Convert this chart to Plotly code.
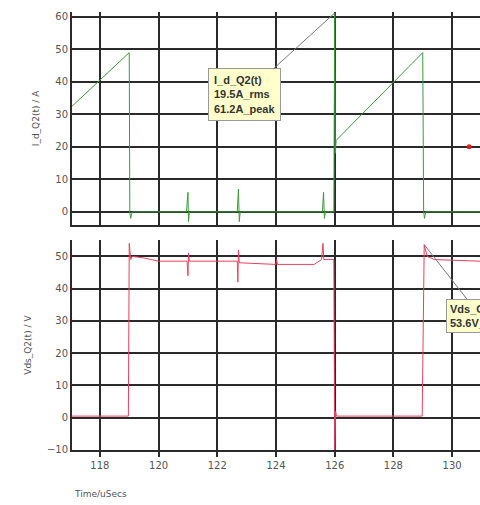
import plotly.graph_objects as go
from plotly.subplots import make_subplots

# Drain current I_d_Q2(t) [A] breakpoints (time in uSecs)
t_current = [117.05, 119.0, 119.02, 119.05, 119.1, 120.95, 121.0, 121.02, 121.05,
             122.68, 122.72, 122.75, 122.78, 125.58, 125.62, 125.65, 125.68,
             125.97, 126.0, 126.02, 126.05, 129.0, 129.03, 129.06, 129.1, 130.95]
i_current = [32.5, 49.0, 0.0, -2.0, 0.0, 0.0, 6.0, -3.0, 0.0,
             0.0, 7.0, -3.0, 0.0, 0.0, 6.0, -2.0, 0.0,
             0.0, 61.2, 18.0, 22.0, 49.0, 0.0, -2.0, 0.0, 0.0]

# Drain-source voltage Vds_Q2(t) [V] breakpoints
t_voltage = [117.05, 118.97, 119.0, 119.05, 119.1, 119.5, 120.0, 120.97, 121.0, 121.02, 121.05,
             122.68, 122.7, 122.72, 122.75, 124.0, 124.02, 124.05, 125.3, 125.55, 125.6, 125.63,
             125.97, 126.0, 126.03, 126.06, 128.98, 129.05, 129.15, 129.4, 130.95]
v_voltage = [0.5, 0.5, 54.0, 49.0, 50.0, 49.5, 48.5, 48.5, 44.0, 51.0, 48.5,
             48.5, 42.0, 52.0, 48.0, 47.5, 49.0, 47.5, 47.5, 49.0, 54.0, 49.0,
             49.0, -10.0, 2.0, 0.5, 0.5, 53.6, 50.0, 49.0, 48.5]

# Cursor marker
cursor_t = [130.58]
cursor_i = [20.0]

# Measurement annotations
peak_i_t, peak_i_val = 126.0, 61.2
peak_i_text = "<b>I_d_Q2(t)<br>19.5A_rms<br>61.2A_peak</b>"
peak_v_t, peak_v_val = 129.05, 53.6
peak_v_text = "<b>Vds_Q2(t)<br>53.6V_peak</b>"

x_ticks = [118, 120, 122, 124, 126, 128, 130]
y1_ticks = [0, 10, 20, 30, 40, 50, 60]
y2_ticks = [-10, 0, 10, 20, 30, 40, 50]

GREEN = "#3c9a3c"
RED = "#e8405c"
GRID = "#2a2a2a"
FONT = "DejaVu Sans"

fig = make_subplots(rows=2, cols=1, shared_xaxes=True)

fig.add_trace(go.Scatter(x=t_current, y=i_current, mode="lines",
                         line=dict(color=GREEN, width=1), showlegend=False), row=1, col=1)
fig.add_trace(go.Scatter(x=cursor_t, y=cursor_i, mode="markers",
                         marker=dict(color="#e02020", size=5), showlegend=False), row=1, col=1)
fig.add_trace(go.Scatter(x=t_voltage, y=v_voltage, mode="lines",
                         line=dict(color=RED, width=1), showlegend=False), row=2, col=1)

axis_common = dict(showgrid=True, gridcolor=GRID, gridwidth=2, zeroline=False,
                   showline=True, linecolor=GRID, linewidth=2, automargin=False,
                   tickfont=dict(family=FONT, size=10, color="#555"))

fig.update_xaxes(range=[117.05, 130.95], tickvals=x_ticks, **axis_common)
fig.update_xaxes(showticklabels=False, row=1, col=1)
fig.update_xaxes(ticks="outside", ticklen=5, tickwidth=2, tickcolor=GRID, row=2, col=1)

fig.update_yaxes(range=[-4, 61.5], tickvals=y1_ticks, row=1, col=1,
                 title=dict(text="I_d_Q2(t) / A", font=dict(family=FONT, size=9, color="#555"), standoff=14),
                 **axis_common)
fig.update_yaxes(range=[-10, 55], tickvals=y2_ticks, row=2, col=1,
                 title=dict(text="Vds_Q2(t) / V", font=dict(family=FONT, size=9, color="#555"), standoff=14),
                 **axis_common)

fig.update_layout(
    width=480, height=505,
    margin=dict(l=72, r=0, t=12, b=55),
    paper_bgcolor="white", plot_bgcolor="white",
    xaxis=dict(domain=[0, 1]),
    yaxis=dict(domain=[0.514, 1.0]),
    yaxis2=dict(domain=[0.0, 0.479]),
    font=dict(family=FONT),
)

fig.add_annotation(x=peak_i_t, y=peak_i_val, xref="x", yref="y", text=peak_i_text,
                   showarrow=True, arrowhead=0, arrowwidth=1, arrowcolor="#777",
                   ax=-90, ay=82, align="left",
                   font=dict(family="Liberation Sans", size=11, color="#333"),
                   bgcolor="#ffffcc", bordercolor="#999", borderwidth=1, borderpad=5)
fig.add_annotation(x=peak_v_t, y=peak_v_val, xref="x2", yref="y2", text=peak_v_text,
                   showarrow=True, arrowhead=0, arrowwidth=1, arrowcolor="#777",
                   ax=60, ay=71, align="left",
                   font=dict(family="Liberation Sans", size=11, color="#333"),
                   bgcolor="#ffffcc", bordercolor="#999", borderwidth=1, borderpad=3)

fig.add_annotation(text="Time/uSecs", xref="paper", yref="paper", x=0, y=-0.1,
                   xanchor="left", yanchor="middle", showarrow=False,
                   font=dict(family=FONT, size=9, color="#555"))

fig.write_html("out.html", config={"displayModeBar": False},
               post_script="document.body.style.margin='0px';document.body.style.overflow='hidden';")
